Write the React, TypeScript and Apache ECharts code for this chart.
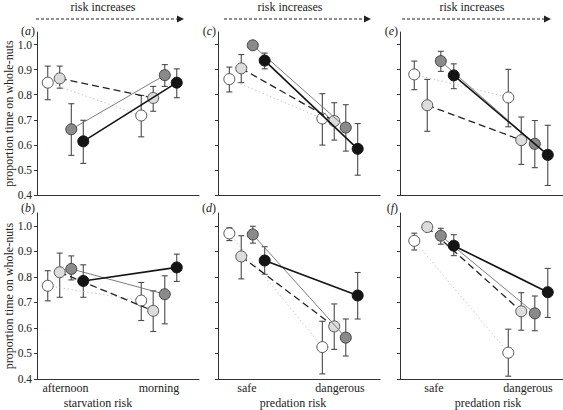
import React, { useEffect, useRef } from "react";
import * as echarts from "echarts";

const SERIF = "Liberation Serif";

// ---------- data ----------
const starvationCats = ["afternoon", "morning"];
const predationCats = ["safe", "dangerous"];
const yTicks = [0.4, 0.5, 0.6, 0.7, 0.8, 0.9, 1.0];
const panelLetters = ["a", "b", "c", "d", "e", "f"];
const yTitle = "proportion time on whole-nuts";
const headerText = "risk increases";
const xTitles = ["starvation risk", "predation risk", "predation risk"];

// each row: one group (open, light grey, dark grey, black), values at [category 1, category 2]
const meanA = [[0.848, 0.717], [0.865, 0.787], [0.662, 0.878], [0.614, 0.848]];
const loA = [[0.780, 0.632], [0.826, 0.734], [0.558, 0.833], [0.526, 0.788]];
const hiA = [[0.914, 0.797], [0.914, 0.833], [0.764, 0.920], [0.698, 0.903]];

const meanB = [[0.765, 0.707], [0.818, 0.667], [0.831, 0.732], [0.784, 0.837]];
const loB = [[0.706, 0.629], [0.720, 0.586], [0.788, 0.616], [0.720, 0.782]];
const hiB = [[0.824, 0.778], [0.893, 0.745], [0.882, 0.804], [0.847, 0.889]];

const meanC = [[0.862, 0.705], [0.905, 0.695], [0.997, 0.669], [0.936, 0.584]];
const loC = [[0.811, 0.599], [0.848, 0.619], [0.990, 0.575], [0.903, 0.479]];
const hiC = [[0.910, 0.804], [0.960, 0.768], [1.000, 0.760], [0.966, 0.685]];

const meanD = [[0.970, 0.525], [0.880, 0.606], [0.966, 0.562], [0.864, 0.727]];
const loD = [[0.942, 0.420], [0.792, 0.516], [0.932, 0.490], [0.810, 0.635]];
const hiD = [[0.992, 0.626], [0.961, 0.694], [0.998, 0.635], [0.918, 0.817]];

const meanE = [[0.881, 0.789], [0.758, 0.619], [0.934, 0.604], [0.877, 0.560]];
const loE = [[0.820, 0.672], [0.654, 0.522], [0.893, 0.509], [0.824, 0.438]];
const hiE = [[0.934, 0.901], [0.861, 0.711], [0.973, 0.697], [0.923, 0.678]];

const meanF = [[0.941, 0.503], [0.995, 0.665], [0.961, 0.657], [0.922, 0.740]];
const loF = [[0.905, 0.411], [0.990, 0.591], [0.928, 0.589], [0.883, 0.641]];
const hiF = [[0.971, 0.595], [1.000, 0.738], [0.990, 0.725], [0.965, 0.833]];

// ---------- layout / style ----------
const panels = [
  { mean: meanA, lo: loA, hi: hiA },
  { mean: meanB, lo: loB, hi: hiB },
  { mean: meanC, lo: loC, hi: hiC },
  { mean: meanD, lo: loD, hi: hiD },
  { mean: meanE, lo: loE, hi: hiE },
  { mean: meanF, lo: loF, hi: hiF },
];
const colLeft = [37, 218, 400];
const colWidth = [162, 162, 163];
const rowTop = [32, 213];
const rowHeight = [163, 166];
const colXRange = [
  [0.695, 2.428],
  [0.688, 2.43],
  [0.638, 2.372],
];
const colOffsets = [
  [-0.19, -0.062, 0.062, 0.19],
  [-0.19, -0.062, 0.062, 0.19],
  [-0.21, -0.072, 0.072, 0.21],
];
const seriesStyles = [
  { fill: "#ffffff", border: "#555", line: "#c6c6c6", type: [1.5, 2.5], width: 1 },
  { fill: "#dcdcdc", border: "#555", line: "#222", type: [7, 4], width: 1.3 },
  { fill: "#8a8a8a", border: "#444", line: "#6e6e6e", type: "solid", width: 0.9 },
  { fill: "#141414", border: "#141414", line: "#141414", type: "solid", width: 1.6 },
];
const AXIS_COLOR = "#333";
const TEXT_COLOR = "#222";

function buildOption() {
  const grid: any[] = [];
  const xAxis: any[] = [];
  const yAxis: any[] = [];
  const series: any[] = [];
  const graphic: any[] = [];

  panels.forEach((pd, p) => {
    const col = Math.floor(p / 2);
    const row = p % 2;
    grid.push({
      left: colLeft[col],
      top: rowTop[row],
      width: colWidth[col],
      height: rowHeight[row],
      containLabel: false,
    });
    const cats = col === 0 ? starvationCats : predationCats;
    xAxis.push({
      type: "value",
      gridIndex: p,
      min: colXRange[col][0],
      max: colXRange[col][1],
      axisLine: { show: true, onZero: false, lineStyle: { color: AXIS_COLOR, width: 1 } },
      axisTick: { show: false },
      splitLine: { show: false },
      axisLabel: {
        show: row === 1,
        customValues: [1, 2],
        formatter: (v: number) => cats[Math.round(v) - 1] ?? "",
        fontFamily: SERIF,
        fontSize: 12,
        color: TEXT_COLOR,
        margin: 3,
      },
    });
    yAxis.push({
      type: "value",
      gridIndex: p,
      min: 0.4,
      max: 1.05,
      axisLine: { show: true, onZero: false, lineStyle: { color: AXIS_COLOR, width: 1 } },
      axisTick: {
        show: true,
        inside: false,
        length: 3,
        customValues: yTicks,
        lineStyle: { color: AXIS_COLOR, width: 1 },
      },
      splitLine: { show: false },
      axisLabel: {
        show: col === 0,
        customValues: yTicks,
        formatter: (v: number) => v.toFixed(1),
        fontFamily: SERIF,
        fontSize: 11.5,
        color: TEXT_COLOR,
        margin: 5,
      },
    });

    // error bars
    const errData: any[] = [];
    pd.mean.forEach((_, s) => {
      [0, 1].forEach((c) => {
        errData.push([c + 1 + colOffsets[col][s], pd.lo[s][c], pd.hi[s][c]]);
      });
    });
    series.push({
      type: "custom",
      xAxisIndex: p,
      yAxisIndex: p,
      z: 1,
      silent: true,
      encode: { x: 0, y: [1, 2] },
      data: errData,
      renderItem: (params: any, api: any) => {
        const x = api.value(0);
        const top = api.coord([x, api.value(2)]);
        const bot = api.coord([x, api.value(1)]);
        const cw = 3;
        const st = { stroke: "#4a4a4a", lineWidth: 1.1 };
        return {
          type: "group",
          children: [
            { type: "line", shape: { x1: top[0], y1: top[1], x2: bot[0], y2: bot[1] }, style: st },
            { type: "line", shape: { x1: top[0] - cw, y1: top[1], x2: top[0] + cw, y2: top[1] }, style: st },
            { type: "line", shape: { x1: bot[0] - cw, y1: bot[1], x2: bot[0] + cw, y2: bot[1] }, style: st },
          ],
        };
      },
    });

    // lines with markers
    pd.mean.forEach((vals, s) => {
      const st = seriesStyles[s];
      series.push({
        type: "line",
        xAxisIndex: p,
        yAxisIndex: p,
        z: 2 + s,
        silent: true,
        symbol: "circle",
        symbolSize: 11,
        showSymbol: true,
        data: vals.map((v, c) => [c + 1 + colOffsets[col][s], v]),
        lineStyle: { color: st.line, width: st.width, type: st.type },
        itemStyle: { color: st.fill, borderColor: st.border, borderWidth: 1 },
      });
    });

    // panel label
    const lx = colLeft[col] - 2;
    const ly = row === 0 ? 31 : 208;
    graphic.push({
      type: "text",
      x: lx,
      y: ly,
      style: {
        text: "{n|(}{i|" + panelLetters[p] + "}{n|)}",
        align: "right",
        verticalAlign: "middle",
        fontFamily: SERIF,
        fontSize: 12,
        rich: {
          n: { fontFamily: SERIF, fontSize: 12, fill: TEXT_COLOR },
          i: { fontFamily: SERIF, fontSize: 12, fontStyle: "italic", fill: TEXT_COLOR },
        },
      },
    });
  });

  // headers
  const headerCenters = [103, 290, 472];
  const arrowStart = [36, 224, 402];
  const arrowTip = [184, 371, 551];
  headerCenters.forEach((cx, i) => {
    graphic.push({
      type: "text",
      x: cx,
      y: 7,
      style: {
        text: headerText,
        fontFamily: SERIF,
        fontSize: 12,
        fill: TEXT_COLOR,
        align: "center",
        verticalAlign: "middle",
      },
    });
    graphic.push({
      type: "line",
      shape: { x1: arrowStart[i], y1: 19, x2: arrowTip[i] - 6, y2: 19 },
      style: { stroke: "#222", lineWidth: 1.2, lineDash: [3, 2] },
    });
    graphic.push({
      type: "polygon",
      shape: {
        points: [
          [arrowTip[i] - 7, 15.5],
          [arrowTip[i], 19],
          [arrowTip[i] - 7, 22.5],
        ],
      },
      style: { fill: "#222" },
    });
  });

  // x titles
  const xTitleCenters = [98, 293, 488];
  xTitles.forEach((t, i) => {
    graphic.push({
      type: "text",
      x: xTitleCenters[i],
      y: 403,
      style: {
        text: t,
        fontFamily: SERIF,
        fontSize: 12,
        fill: TEXT_COLOR,
        align: "center",
        verticalAlign: "middle",
      },
    });
  });

  // y titles
  [113.5, 296].forEach((cy) => {
    graphic.push({
      type: "text",
      x: 9,
      y: cy,
      rotation: Math.PI / 2,
      style: {
        text: yTitle,
        fontFamily: SERIF,
        fontSize: 12,
        fill: TEXT_COLOR,
        align: "center",
        verticalAlign: "middle",
      },
    });
  });

  return {
    animation: false,
    backgroundColor: "#ffffff",
    textStyle: { fontFamily: SERIF },
    grid,
    xAxis,
    yAxis,
    series,
    graphic,
  };
}

export default function App() {
  const ref = useRef<HTMLDivElement>(null);
  useEffect(() => {
    document.body.style.margin = "0";
    if (!ref.current) return;
    const chart = echarts.init(ref.current, null, { renderer: "svg" });
    chart.setOption(buildOption());
    return () => chart.dispose();
  }, []);
  return <div ref={ref} style={{ width: 563, height: 410 }} />;
}
